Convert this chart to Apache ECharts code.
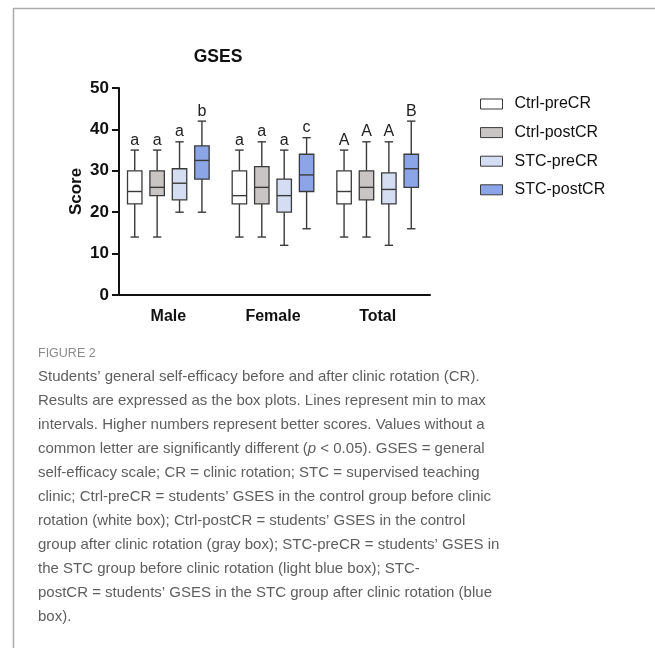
<!DOCTYPE html>
<html>
<head>
<meta charset="utf-8">
<script src="https://cdn.jsdelivr.net/npm/echarts@6/dist/echarts.min.js"></script>
<style>
html,body{margin:0;padding:0;background:#fff;}
#chart{width:655px;height:648px;}
</style>
</head>
<body>
<div id="chart"></div>
<script>
// ---- data ----
const categories = ['Male', 'Female', 'Total'];
const seriesNames = ['Ctrl-preCR', 'Ctrl-postCR', 'STC-preCR', 'STC-postCR'];
// each box: [min, Q1, median, Q3, max]
const ctrlPre  = [[14, 22, 25, 30, 35], [14, 22, 24, 30, 35], [14, 22, 25, 30, 35]];
const ctrlPost = [[14, 24, 26, 30, 35], [14, 22, 26, 31, 37], [14, 23, 26, 30, 37]];
const stcPre   = [[20, 23, 27, 30.5, 37], [12, 20, 24, 28, 35], [12, 22, 25.5, 29.5, 37]];
const stcPost  = [[20, 28, 32.5, 36, 42], [16, 25, 29, 34, 38], [16, 26, 30.5, 34, 42]];
const lettersCtrlPre  = ['a', 'a', 'A'];
const lettersCtrlPost = ['a', 'a', 'A'];
const lettersStcPre   = ['a', 'a', 'A'];
const lettersStcPost  = ['b', 'c', 'B'];
const yTicks = [0, 10, 20, 30, 40, 50];

const allBoxes = [ctrlPre, ctrlPost, stcPre, stcPost];
const allLetters = [lettersCtrlPre, lettersCtrlPost, lettersStcPre, lettersStcPost];
const fills = ['#ffffff', '#c9c5c5', '#d4ddf1', '#8ca5e7'];
const strokeCol = '#3a3a3a';
const FONT = "'Liberation Sans', Arial, Helvetica, sans-serif";
const CAPFONT = "'Liberation Sans', Arial, sans-serif";

function makeRender(si) {
  return function (params, api) {
    const cat = api.value(0);
    const bw = api.size([1, 0])[0];
    const cx = api.coord([cat, 0])[0] + (si - 1.5) * bw * 0.214;
    const y = [1, 2, 3, 4, 5].map(i => api.coord([cat, api.value(i)])[1]);
    const half = bw * 0.069, cap = bw * 0.04;
    const ls = { stroke: strokeCol, lineWidth: 1.4 };
    return {
      type: 'group',
      children: [
        { type: 'line', shape: { x1: cx, y1: y[4], x2: cx, y2: y[3] }, style: ls },
        { type: 'line', shape: { x1: cx, y1: y[1], x2: cx, y2: y[0] }, style: ls },
        { type: 'line', shape: { x1: cx - cap, y1: y[4], x2: cx + cap, y2: y[4] }, style: ls },
        { type: 'line', shape: { x1: cx - cap, y1: y[0], x2: cx + cap, y2: y[0] }, style: ls },
        { type: 'rect', shape: { x: cx - half, y: y[3], width: 2 * half, height: y[1] - y[3] },
          style: { fill: fills[si], stroke: strokeCol, lineWidth: 1.3 } },
        { type: 'line', shape: { x1: cx - half, y1: y[2], x2: cx + half, y2: y[2] }, style: ls },
        { type: 'text', style: { text: allLetters[si][params.dataIndex], x: cx, y: y[4] - 2,
          align: 'center', verticalAlign: 'bottom', fontSize: 16, fontFamily: FONT, fill: '#222' } }
      ]
    };
  };
}

const series = allBoxes.map((boxes, si) => ({
  name: seriesNames[si],
  type: 'custom',
  renderItem: makeRender(si),
  itemStyle: { color: fills[si], borderColor: strokeCol },
  encode: { x: 0, y: [1, 2, 3, 4, 5] },
  data: boxes.map((b, i) => [i].concat(b)),
  silent: true,
  animation: false
}));

const captionLines = [
  'Students\u2019 general self-efficacy before and after clinic rotation (CR).',
  'Results are expressed as the box plots. Lines represent min to max',
  'intervals. Higher numbers represent better scores. Values without a',
  '{n|common letter are significantly different (}{i|p}{n| < 0.05). GSES = general}',
  'self-efficacy scale; CR = clinic rotation; STC = supervised teaching',
  'clinic; Ctrl-preCR = students\u2019 GSES in the control group before clinic',
  'rotation (white box); Ctrl-postCR = students\u2019 GSES in the control',
  'group after clinic rotation (gray box); STC-preCR = students\u2019 GSES in',
  'the STC group before clinic rotation (light blue box); STC-',
  'postCR = students\u2019 GSES in the STC group after clinic rotation (blue',
  'box).'
];
const CAPSIZE = 15;

const graphics = [
  { type: 'line', shape: { x1: 13, y1: 8.5, x2: 655, y2: 8.5 }, style: { stroke: '#aaaaaa', lineWidth: 1.5 } },
  { type: 'line', shape: { x1: 13.5, y1: 8, x2: 13.5, y2: 648 }, style: { stroke: '#aaaaaa', lineWidth: 1.5 } },
  { type: 'text', x: 218, y: 57, style: { text: 'GSES', align: 'center', verticalAlign: 'middle',
    fontSize: 17.5, fontWeight: 'bold', fontFamily: FONT, fill: '#111' } },
  { type: 'text', x: 38, y: 354, style: { text: 'FIGURE 2', align: 'left', verticalAlign: 'middle',
    fontSize: 12.5, fontFamily: CAPFONT, fill: '#8a8a8a' } }
];
captionLines.forEach((t, i) => {
  graphics.push({ type: 'text', x: 38, y: 376.7 + i * 24, style: {
    text: t, align: 'left', verticalAlign: 'middle', fontSize: CAPSIZE, fontFamily: CAPFONT, fill: '#5e5e5e',
    rich: {
      n: { fontSize: CAPSIZE, fontFamily: CAPFONT, fill: '#5e5e5e' },
      i: { fontSize: CAPSIZE, fontFamily: CAPFONT, fill: '#5e5e5e', fontStyle: 'italic' }
    }
  } });
});

const chart = echarts.init(document.getElementById('chart'), null, { renderer: 'canvas' });
chart.setOption({
  animation: false,
  backgroundColor: '#ffffff',
  grid: { left: 116, top: 88, width: 314, height: 207, containLabel: false },
  xAxis: {
    type: 'category',
    data: categories,
    axisLine: { lineStyle: { color: '#111', width: 2 } },
    axisTick: { alignWithLabel: true, length: 7, lineStyle: { color: '#111', width: 2 } },
    axisLabel: { color: '#111', fontSize: 16, fontWeight: 'bold', fontFamily: FONT, margin: 14 },
    splitLine: { show: false }
  },
  yAxis: {
    type: 'value',
    min: yTicks[0], max: yTicks[yTicks.length - 1], interval: 10,
    offset: -3,
    name: 'Score',
    nameLocation: 'middle',
    nameRotate: 90,
    nameGap: 34,
    nameTextStyle: { color: '#111', fontSize: 17, fontWeight: 'bold', fontFamily: FONT },
    axisLine: { show: true, lineStyle: { color: '#111', width: 2 } },
    axisTick: { show: true, length: 7, lineStyle: { color: '#111', width: 2 } },
    axisLabel: { color: '#111', fontSize: 17, fontWeight: 'bold', fontFamily: FONT, margin: 10 },
    splitLine: { show: false }
  },
  legend: {
    orient: 'vertical',
    left: 475, top: 91,
    itemWidth: 22, itemHeight: 10, itemGap: 12.6,
    icon: 'rect',
    data: seriesNames.map((n, i) => ({ name: n, itemStyle: { color: fills[i], borderColor: strokeCol, borderWidth: 1 } })),
    textStyle: { color: '#111', fontSize: 16, fontFamily: FONT, padding: [0, 0, 0, 7] },
    selectedMode: false
  },
  graphic: graphics,
  series: series
});
</script>
</body>
</html>
